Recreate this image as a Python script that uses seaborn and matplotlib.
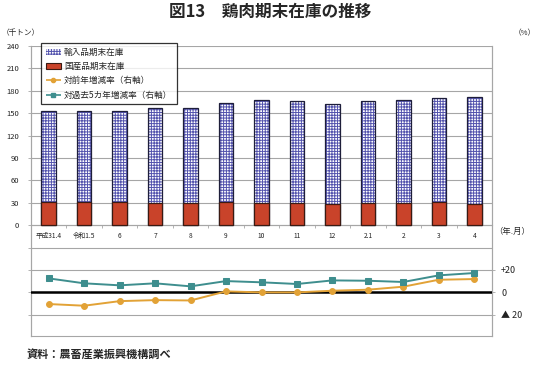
import numpy as np
import pandas as pd
import matplotlib
matplotlib.use('Agg')
import matplotlib.pyplot as plt
from matplotlib.patches import Patch
from matplotlib.lines import Line2D
import seaborn as sns

sns.set_theme(style='white')
plt.rcParams['font.family'] = ['Noto Sans CJK JP', 'DejaVu Sans']
plt.rcParams['hatch.linewidth'] = 0.7

# data
months = ['平成31.4', '令和1.5', '6', '7', '8', '9', '10', '11', '12', '2.1', '2', '3', '4']
total = [153.0, 153.0, 153.0, 157.0, 156.6, 163.2, 167.7, 166.0, 162.3, 166.0, 167.3, 170.0, 171.7]
domestic = [30.5, 30.5, 30.5, 29.2, 29.2, 30.5, 29.5, 29.2, 27.9, 29.2, 29.2, 31.4, 27.9]
yoy = [-10.4, -11.9, -7.8, -6.9, -7.2, 0.9, 0.0, 0.0, 1.5, 2.4, 5.1, 11.3, 11.9]
vs5y = [12.5, 8.1, 6.3, 8.1, 5.4, 10.1, 9.0, 7.5, 10.7, 10.4, 9.3, 15.2, 17.3]

df = pd.DataFrame({'month': months, 'total': total, 'domestic': domestic,
                   'yoy': yoy, 'vs5y': vs5y, 'pos': np.arange(len(months))})

hatch_col = '#5454AE'
red = '#C9432A'
orange = '#E2A236'
teal = '#3E8E8E'
grid_col = '#A6A6A6'

fig = plt.figure(figsize=(5.38, 3.65), dpi=100)
ax = fig.add_axes([31/538, 1-335.7/365, 461/538, (335.7-46)/365])
ax2 = ax.twinx()

bw = 0.41
# imported (shown as total height, hatched)
sns.barplot(data=df, x='month', y='total', order=months, color='white', saturation=1,
            edgecolor=hatch_col, linewidth=0, hatch='++++++', width=bw, ax=ax, zorder=2)
sns.barplot(data=df, x='month', y='total', order=months, fill=False, color='#1E1E3A',
            saturation=1, linewidth=0.9, width=bw, ax=ax, zorder=3)
# domestic
sns.barplot(data=df, x='month', y='domestic', order=months, color=red, saturation=1,
            edgecolor='#3A1A12', linewidth=0.9, width=bw, ax=ax, zorder=4)

# lines on right axis
sns.lineplot(data=df, x='pos', y='yoy', ax=ax2, color=orange, marker='o', markersize=4.2,
             markeredgecolor=orange, linewidth=1.4, zorder=5)
sns.lineplot(data=df, x='pos', y='vs5y', ax=ax2, color=teal, marker='s', markersize=4.2,
             markeredgecolor=teal, linewidth=1.4, zorder=5)
ax2.axhline(0, color='black', lw=1.8, zorder=4)

ax.set_xlim(-0.5, len(months) - 0.5)
ax.set_ylim(-148, 240)
ax2.set_ylim((-148 + 90) * 2 / 3, (240 + 90) * 2 / 3)

yt = list(range(-120, 241, 30))
ax.set_yticks(yt, [str(v) if v >= 0 else '' for v in yt])
ax.yaxis.grid(True, color=grid_col, lw=0.8)
ax.set_axisbelow(True)
ax.tick_params(axis='y', which='major', left=True, length=2.5, width=0.6, color=grid_col,
               labelsize=5.5, pad=6, labelcolor='#222222')

ax2.set_yticks([-20, 0, 20], ['▲ 20', '0', '+20'])
ax2.tick_params(axis='y', right=True, length=2.5, width=0.6, color=grid_col,
                labelsize=6.5, pad=4, labelcolor='#222222')
ax2.grid(False)

# category axis at zero
ax.spines['bottom'].set_position(('data', 0))
ax.set_xticks(range(len(months)), months)
ax.set_xticks(np.arange(-0.5, len(months), 1), minor=True)
ax.tick_params(axis='x', which='major', length=0, labelsize=4.8, pad=5, labelcolor='#222222')
ax.tick_params(axis='x', which='minor', bottom=True, length=2, width=0.6, color=grid_col)
ax.set_xlabel('')
ax.set_ylabel('')
ax2.set_ylabel('')

for a in (ax, ax2):
    for s in a.spines.values():
        s.set_color(grid_col)
        s.set_linewidth(0.8)
ax.spines['top'].set_visible(False)
ax2.spines['top'].set_visible(False)

handles = [
    Patch(facecolor='white', edgecolor=hatch_col, hatch='++++++', lw=0),
    Patch(facecolor=red, edgecolor='#3A1A12', lw=0.8),
    Line2D([], [], color=orange, ls='--', lw=1.2, marker='o', markersize=3),
    Line2D([], [], color=teal, ls='--', lw=1.2, marker='s', markersize=3),
]
names = ['輸入品期末在庫', '国産品期末在庫', '対前年増減率（右軸）', '対過去5カ年増減率（右軸）']
leg = ax2.legend(handles, names, loc='upper left', bbox_to_anchor=(41/538, 1-43/365),
                 bbox_transform=fig.transFigure, fontsize=6.2, frameon=True, fancybox=False,
                 handlelength=1.8, handletextpad=0.3, labelspacing=0.62, borderpad=0.55,
                 borderaxespad=0)
leg.get_frame().set_edgecolor('black')
leg.get_frame().set_linewidth(0.9)
leg.set_zorder(10)

fig.text(270/538, 1-12/365, '図13　鶏肉期末在庫の推移', ha='center', va='center',
         fontsize=12, fontweight='bold')
fig.text(2/538, 1-33/365, '（千トン）', ha='left', va='center', fontsize=5.5)
fig.text(536/538, 1-33/365, '（%）', ha='right', va='center', fontsize=5.5)
fig.text(494/538, 1-231/365, '（年.月）', ha='left', va='center', fontsize=6)
fig.text(27/538, 1-354/365, '資料：農畜産業振興機構調べ', ha='left', va='center',
         fontsize=8, fontweight='bold')

fig.savefig('out.png', dpi=100)
